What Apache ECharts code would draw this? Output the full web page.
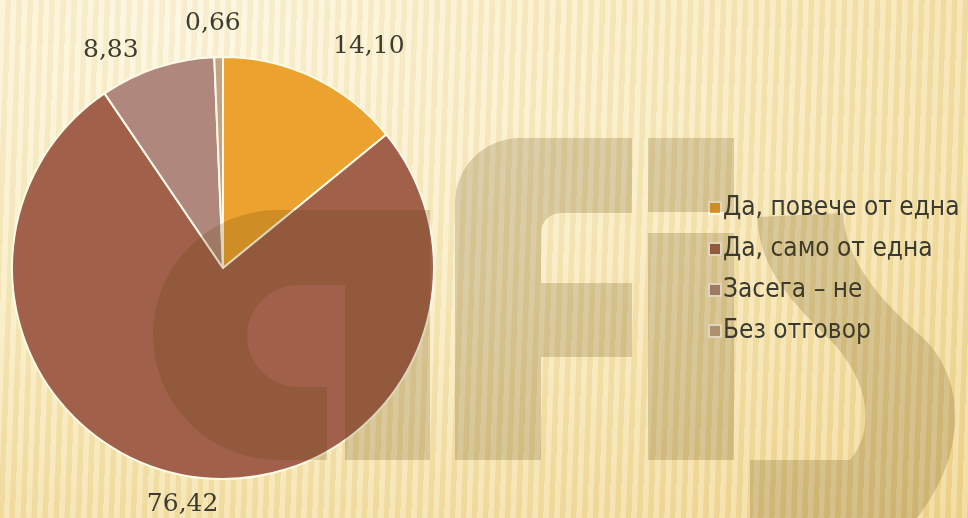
<!DOCTYPE html>
<html lang="bg">
<head>
  <meta charset="UTF-8">
  <title>Pie</title>
  <script src="https://cdn.jsdelivr.net/npm/echarts@6/dist/echarts.min.js"></script>
  <style>
    html, body {
      margin: 0;
      padding: 0;
    }

    #chart {
      width: 968px;
      height: 518px;
      background-color: #f8e8b4;
      background-image:
        repeating-linear-gradient(92deg, rgba(255, 255, 255, 0.22) 0 5px, rgba(190, 150, 60, 0.08) 6px 11px),
        radial-gradient(ellipse at 20% 5%, #fdf6dc 0%, #f9ebbd 45%, #efd48c 100%);
    }
  </style>
</head>
<body>
  <div id="chart"></div>
  <script>
    var categories = ['Да, повече от една', 'Да, само от една', 'Засега – не', 'Без отговор']
    var values = [14.10, 76.42, 8.83, 0.66]
    var colors = ['#eba22e', '#a1604a', '#b0877c', '#c4a384']

    // afis watermark over the chart
    var logoFill = 'rgba(90, 66, 5, 0.2)'
    var logo = [
      'M278,210 L430,210 L430,460 L278,460 A125,125 0 0 1 278,210 Z ' +
      'M298,285 A51,51 0 0 0 298,387 L327,387 L327,460 L345,460 L345,285 Z',
      'M455,460 L455,203 A65,65 0 0 1 520,138 L632,138 L632,213 L561,213 A20,20 0 0 0 541,233 ' +
      'L541,283 L632,283 L632,357 L541,357 L541,460 Z',
      'M648,138 L734,138 L734,212 L648,212 Z M648,233 L734,233 L734,460 L648,460 Z',
      'M757,217 L843,213 C845,260 880,300 920,335 C965,375 970,450 917,518 L750,518 L750,460 ' +
      'L850,460 C875,430 870,385 835,345 C790,300 760,270 757,217 Z'
    ]
    logo.forEach(function (d, i) {
      echarts.graphic.registerShape('logo' + i, echarts.graphic.extendPath(d, {}))
    })

    var chart = echarts.init(document.getElementById('chart'))
    chart.setOption({
      backgroundColor: 'transparent',
      color: colors,
      legend: {
        orient: 'vertical',
        left: 703,
        top: 190,
        itemWidth: 12,
        itemHeight: 12,
        itemGap: 15,
        icon: 'rect',
        data: categories,
        textStyle: {
          fontFamily: '"Liberation Sans Narrow", "DejaVu Sans Condensed", sans-serif',
          fontSize: 26,
          color: '#3a3a32',
          padding: [0, 0, 0, -3]
        }
      },
      series: [{
        type: 'pie',
        center: [223, 268],
        radius: 211,
        startAngle: 90,
        clockwise: true,
        animation: false,
        silent: true,
        itemStyle: {
          borderColor: '#fffbea',
          borderWidth: 2
        },
        label: {
          show: true,
          position: 'outside',
          fontFamily: '"DejaVu Serif", serif',
          fontSize: 25,
          color: '#3c3c30',
          formatter: function (p) {
            return p.value.toFixed(2).replace('.', ',')
          }
        },
        labelLine: {
          show: false,
          length: 34,
          length2: 0
        },
        labelLayout: function (p) {
          return { align: p.dataIndex === 0 ? 'left' : 'center' }
        },
        data: categories.map(function (name, i) {
          return { name: name, value: values[i] }
        })
      }],
      graphic: logo.map(function (d, i) {
        return {
          type: 'logo' + i,
          z: 100,
          silent: true,
          style: { fill: logoFill }
        }
      })
    })
  </script>
</body>
</html>
